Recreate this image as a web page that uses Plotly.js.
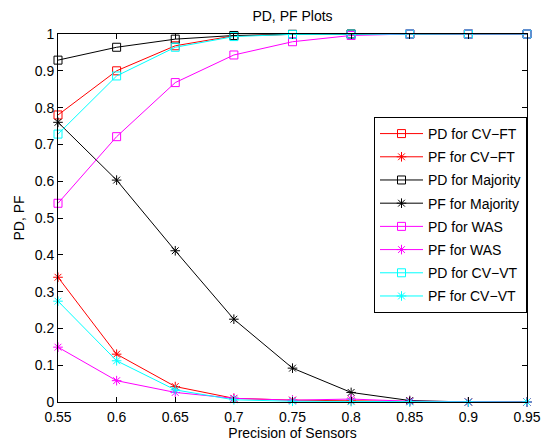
<!DOCTYPE html>
<html>
<head>
<meta charset="utf-8">
<script src="https://cdn.plot.ly/plotly-3.0.1.min.js"></script>
<style>html,body{margin:0;padding:0;background:#fff;}#chart{width:543px;height:441px;}</style>
</head>
<body>
<div id="chart"></div>
<script>
var precision = [0.55, 0.6, 0.65, 0.7, 0.75, 0.8, 0.85, 0.9, 0.95];
var tickLabels = ['0.55', '0.6', '0.65', '0.7', '0.75', '0.8', '0.85', '0.9', '0.95'];

var pdCVFT = [0.780, 0.900, 0.968, 0.995, 0.999, 1.000, 1.000, 1.000, 1.000];
var pfCVFT = [0.339, 0.130, 0.042, 0.010, 0.005, 0.003, 0.001, 0.000, 0.000];
var pdMajority = [0.929, 0.964, 0.986, 0.996, 0.999, 1.000, 1.000, 1.000, 1.000];
var pfMajority = [0.760, 0.603, 0.411, 0.225, 0.092, 0.026, 0.004, 0.000, 0.000];
var pdWAS = [0.540, 0.721, 0.868, 0.943, 0.979, 0.996, 1.000, 1.000, 1.000];
var pfWAS = [0.149, 0.058, 0.026, 0.010, 0.005, 0.008, 0.002, 0.000, 0.000];
var pdCVVT = [0.728, 0.886, 0.964, 0.993, 0.999, 1.000, 1.000, 1.000, 1.000];
var pfCVVT = [0.274, 0.112, 0.033, 0.006, 0.002, 0.001, 0.000, 0.000, 0.000];

var seriesNames = ['PD for CV\u2212FT', 'PF for CV\u2212FT', 'PD for Majority', 'PF for Majority',
                   'PD for WAS', 'PF for WAS', 'PD for CV\u2212VT', 'PF for CV\u2212VT'];
var seriesValues = [pdCVFT, pfCVFT, pdMajority, pfMajority, pdWAS, pfWAS, pdCVVT, pfCVVT];
var seriesColors = ['#ff0000', '#ff0000', '#000000', '#000000', '#ff00ff', '#ff00ff', '#00ffff', '#00ffff'];
var seriesSymbols = ['square-open', 'asterisk-open', 'square-open', 'asterisk-open',
                     'square-open', 'asterisk-open', 'square-open', 'asterisk-open'];

var traces = seriesNames.map(function (name, i) {
  return {
    x: precision,
    y: seriesValues[i],
    name: name,
    legendgroup: 'g' + i,
    type: 'scatter',
    mode: 'lines+markers',
    line: {color: seriesColors[i], width: 1},
    marker: {symbol: seriesSymbols[i], size: 8, color: seriesColors[i], line: {color: seriesColors[i], width: 1}},
    cliponaxis: false
  };
});

var font = {family: 'Liberation Sans, Arial, sans-serif', size: 14, color: '#000'};

var layout = {
  width: 543,
  height: 441,
  margin: {l: 58, r: 16, t: 34, b: 39},
  paper_bgcolor: '#fff',
  plot_bgcolor: '#fff',
  font: font,
  showlegend: true,
  title: {text: 'PD, PF Plots', font: {family: font.family, size: 14, color: '#000'}, x: 0.5, xref: 'paper', xanchor: 'center', y: 1, yref: 'paper', yanchor: 'bottom', pad: {b: 13}},
  xaxis: {
    range: [0.55, 0.95],
    tickvals: precision,
    ticktext: tickLabels,
    ticks: 'inside',
    ticklen: 5,
    tickcolor: '#000',
    ticklabelstandoff: 2,
    showline: true,
    linecolor: '#000',
    linewidth: 1,
    mirror: 'ticks',
    showgrid: false,
    zeroline: false,
    tickfont: font,
    title: {text: 'Precision of Sensors', font: font, standoff: 3}
  },
  yaxis: {
    range: [0, 1],
    tickvals: [0, 0.1, 0.2, 0.3, 0.4, 0.5, 0.6, 0.7, 0.8, 0.9, 1],
    ticktext: ['0', '0.1', '0.2', '0.3', '0.4', '0.5', '0.6', '0.7', '0.8', '0.9', '1'],
    ticks: 'inside',
    ticklen: 5,
    tickcolor: '#000',
    showline: true,
    linecolor: '#000',
    linewidth: 1,
    mirror: 'ticks',
    showgrid: false,
    zeroline: false,
    tickfont: font,
    title: {text: 'PD, PF', font: font, standoff: 6}
  },
  legend: {
    x: 1, xanchor: 'right', xref: 'paper',
    y: 0.7745, yanchor: 'top', yref: 'paper',
    bgcolor: '#fff',
    bordercolor: '#000',
    borderwidth: 1,
    font: font,
    itemwidth: 43,
    traceorder: 'grouped',
    tracegroupgap: 2
  }
};

Plotly.newPlot('chart', traces, layout, {displayModeBar: false, staticPlot: true});
</script>
</body>
</html>
